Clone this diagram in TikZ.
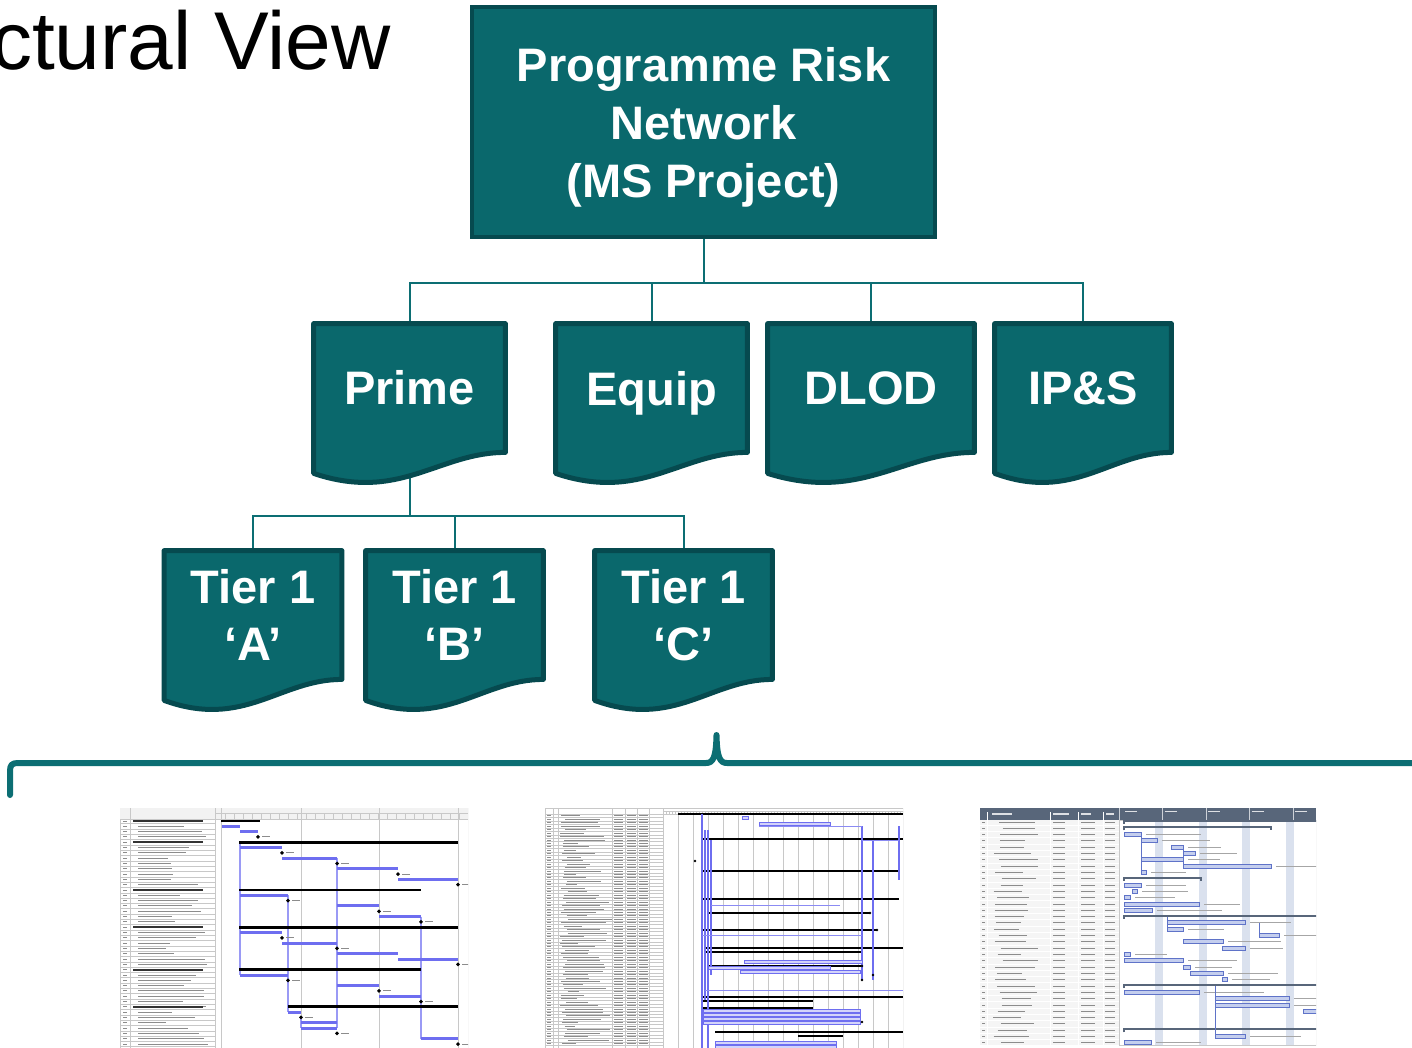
\documentclass[tikz,border=0pt]{standalone}
\usepackage{fontspec}
\setmainfont{Liberation Sans}
\usetikzlibrary{calc}

\definecolor{riskteal}{RGB}{10,104,108}
\definecolor{riskedge}{RGB}{6,74,79}
\definecolor{riskline}{RGB}{12,110,115}
\definecolor{ganttblue}{RGB}{110,110,240}
\definecolor{ganttgrid}{RGB}{200,200,200}
\definecolor{ganttfill}{RGB}{196,206,238}
\definecolor{ganttedge}{RGB}{95,115,200}
\definecolor{gantthead}{RGB}{88,102,122}
\definecolor{ganttband}{RGB}{218,225,238}

\pgfdeclarelayer{links}
\pgfdeclarelayer{shapes}
\pgfsetlayers{links,shapes,main}

\tikzset{
  topbox/.style={fill=riskteal, draw=riskedge, line width=2pt, minimum width=231.5pt, minimum height=115pt, inner sep=0pt, text=white, font=\bfseries\fontsize{23.5}{29}\selectfont, align=center},
  docbox/.style={inner sep=0pt, minimum height=64pt, text=white, font=\bfseries\fontsize{23.5}{28.5}\selectfont, align=center},
  docline/.style={fill=riskteal, draw=riskedge, line width=2.5pt, line join=round},
  link/.style={draw=riskline, line width=1pt},
  brace/.style={draw=riskline, line width=3pt, line cap=round, line join=round},
  gridline/.style={draw=ganttgrid, line width=0.3pt},
  textline/.style={draw=black!45, line width=0.7pt},
}

\begin{document}
\begin{tikzpicture}[x=0.5pt,y=0.5pt,yscale=-1,xscale=1]
\useasboundingbox (0,0) rectangle (1412,1048);
\clip (0,0) rectangle (1412,1048);

% Title, cut at the left edge
\node[anchor=base east, inner sep=0pt, font=\fontsize{41}{49}\selectfont] (title) at (391,70) {ctural View};

% Boxes
\node[topbox, minimum height=115pt, text height=0pt] (prn) at (703.5,122) {};
\node[text=white, font=\bfseries\fontsize{23.5}{29}\selectfont, align=center, inner sep=0pt] (prntext) at (703.5,127) {Programme Risk\\Network\\(MS Project)};
\node[docbox, minimum width=95.5pt] (prime) at (409.5,388) {Prime};
\node[docbox, minimum width=95.5pt, text depth=0pt] (equip) at (651.5,388) {Equip};
\node[docbox, minimum width=103pt] (dlod) at (871,388) {DLOD};
\node[docbox, minimum width=88pt] (ips) at (1083,388) {IP\&S};
\node[docbox, minimum width=88.5pt] (tiera) at (253,615) {Tier 1\\‘A’};
\node[docbox, minimum width=88.5pt] (tierb) at (454.5,615) {Tier 1\\‘B’};
\node[docbox, minimum width=88.5pt] (tierc) at (683.5,615) {Tier 1\\‘C’};

% Document outlines
\begin{pgfonlayer}{shapes}
\foreach \n in {prime,equip,dlod,ips,tiera,tierb,tierc}
  \draw[docline] (\n.south east) .. controls ($(\n.south east)!0.35!(\n.south west)$) and ($(\n.south east)!0.55!(\n.south west)+(0,50)$) .. ($(\n.south west)+(0,21)$) -- (\n.north west) -- (\n.north east) -- cycle;
\end{pgfonlayer}

% Connectors
\begin{pgfonlayer}{links}
\foreach \n in {prime,equip,dlod,ips}
  \draw[link] (prn.south) -- ++(0,44) -| (\n.north);
\foreach \n in {tiera,tierb,tierc}
  \draw[link] (prime.south) -- ++(0,64) -| (\n.north);
\end{pgfonlayer}

% Brace
\draw[brace] (10,795) -- (10,771) .. controls (10,765) and (12,763) .. (18,763) -- (706,763) .. controls (713,763) and (716,758) .. (716.5,735) .. controls (717,758) and (720,763) .. (727,763) -- (1420,763);

\pgfmathsetseed{7}

% Gantt sheet 1
\begin{scope}
\clip (120,808) rectangle (468,1048);
\draw[gridline, fill=white] (120,808) rectangle (468,1048);
\fill[black!5] (120,808) rectangle (468,819);
\draw[gridline] (120,819) -- (468,819) (130,808) -- (130,1048) (215,808) -- (215,1048) (215,813.5) -- (468,813.5);
\foreach \x in {221,301,379,458}
  \draw[gridline] (\x,808) -- (\x,1048);
\foreach \x in {225,234,...,465}
  \draw[gridline] (\x,813.5) -- (\x,819);
\foreach \i in {1,...,43} {
  \draw[gridline, line width=0.2pt] (120,{818.35+5.31*\i}) -- (215,{818.35+5.31*\i});
  \draw[textline, line width=0.5pt] (123,{815.7+5.31*\i}) -- (127,{815.7+5.31*\i});
  \draw[textline, line width=0.5pt] (138,{815.7+5.31*\i}) -- ++({25+rnd*45},0);
}
\foreach \r in {1,5,14,21,29,36}
  \draw[black!80, line width=0.8pt] (133,{815.7+5.31*\r}) -- ++(70,0);
\foreach \x/\p/\q in {240/5/30, 288/15/37, 337/8/40, 421/19/42, 301/38/40}
  \draw[ganttblue!70, line width=0.6pt] (\x,{815.7+5.31*\p}) -- (\x,{815.7+5.31*\q});
\foreach \r/\a/\b in {2/222/240, 3/240/258, 6/240/282, 8/282/337, 10/337/398, 12/398/458, 15/240/288, 17/337/379, 19/379/421, 22/240/282, 24/282/337, 26/337/398, 27/398/458, 30/240/288, 32/337/379, 34/379/421, 37/288/301, 39/301/337, 40/301/337, 42/421/458}
  \fill[ganttblue] (\a,{814.2+5.31*\r}) rectangle (\b,{817.2+5.31*\r});
\foreach \r/\a/\b in {1/221/260, 5/239/458, 14/239/421, 21/239/458, 29/239/421, 36/288/458}
  \fill[black] (\a,{814.3+5.31*\r}) rectangle (\b,{817.1+5.31*\r});
\foreach \r/\x in {4/258, 7/282, 9/337, 11/398, 13/458, 16/288, 18/379, 20/421, 23/282, 25/337, 28/458, 31/288, 33/379, 35/421, 38/301, 41/337, 43/458} {
  \fill[black] (\x,{815.7+5.31*\r}) +(-2,0) -- +(0,-2) -- +(2,0) -- +(0,2) -- cycle;
  \draw[textline, line width=0.5pt] (\x+4,{815.7+5.31*\r}) -- ++(8,0);
}
\end{scope}

% Gantt sheet 2
\begin{scope}
\clip (545,808) rectangle (903,1048);
\draw[gridline, fill=white] (545,808) rectangle (903,1048);
\foreach \x in {553,558,612,625,637,649,663}
  \draw[gridline] (\x,808) -- (\x,1048);
\foreach \x in {678,693,...,903}
  \draw[gridline, line width=0.2pt] (\x,814) -- (\x,1048);
\draw[gridline] (663,811) -- (903,811) (545,814) -- (903,814);
\foreach \x in {666,669,...,903}
  \draw[gridline, line width=0.2pt] (\x,811) -- (\x,814);
\foreach \i in {1,...,67} {
  \draw[gridline, line width=0.15pt] (545,{814+3.45*\i}) -- (663,{814+3.45*\i});
  \draw[textline, line width=0.4pt] (547,{812.3+3.45*\i}) -- (551,{812.3+3.45*\i});
  \draw[textline, line width=0.4pt] ({560+rnd*8},{812.3+3.45*\i}) -- ++({10+rnd*35},0);
  \draw[textline, line width=0.4pt] (614,{812.3+3.45*\i}) -- ++(9,0) (627,{812.3+3.45*\i}) -- ++(9,0) (639,{812.3+3.45*\i}) -- ++(9,0);
}
\foreach \y/\a/\b in {814/678/903, 839/702/903, 871/702/899, 899/702/899, 913/708/870, 930/702/877, 948/705/903, 952/705/862, 966/707/862, 997/703/903, 1001/703/813, 1008/703/813, 1032/715/903, 1036/798/843}
  \draw[black, line width=1.2pt] (\a,\y) -- (\b,\y);
\foreach \x/\p/\q in {702/814/1048, 705/830/1000, 708/830/1048, 711/840/975, 862/826/980, 873/840/980, 899/826/880}
  \draw[ganttblue, line width=0.6pt] (\x,\p) -- (\x,\q);
\foreach \y/\a/\b in {826/759/862, 840/862/899, 905/711/840, 935/702/862, 990/705/903}
  \draw[ganttblue!80, line width=0.5pt] (\a,\y) -- (\b,\y);
\foreach \y/\a/\b in {818/742/748, 824/759/830, 962/744/862, 968/708/830, 972/740/860, 1011/703/860, 1015/703/860, 1019/703/860, 1023/703/860, 1043/715/836, 1047/715/836}
  \draw[ganttblue, fill=ganttblue!30, line width=0.5pt] (\a,\y-1.3) rectangle (\b,\y+1.3);
\foreach \y/\x in {861/695, 913/870, 930/877, 966/862, 975/873, 980/862, 1022/862}
  \fill[black] (\x,\y) circle (1.3);
\end{scope}

% Gantt sheet 3
\begin{scope}
\clip (980,808) rectangle (1316,1045);
\fill[black!4] (980,820) rectangle (1119,1045);
\draw[gridline, fill=white] (1119,820) rectangle (1316,1045);
\foreach \x in {1155,1198.5,1242,1285.5}
  \fill[ganttband] (\x,820) rectangle (\x+8,1045);
\fill[gantthead] (980,808) rectangle (1316,820);
\foreach \x in {987,1050,1078,1103}
  \draw[white, line width=0.3pt] (\x,812) -- (\x,1045);
\foreach \x in {1119,1162.5,1206,1249.5,1293}
  \draw[white!70!gantthead, line width=0.3pt] (\x,808) -- (\x,820);
\foreach \x in {1123,1162.5,1206,1249.5,1293}
  \draw[white!80!gantthead, line width=0.5pt] (\x+2,811) -- ++(12,0);
\draw[white!80!gantthead, line width=0.6pt] (992,814) -- ++(20,0) (1053,814) -- ++(16,0) (1081,814) -- ++(10,0) (1106,814) -- ++(8,0);
\foreach \i in {1,...,36} {
  \draw[white, line width=0.4pt] (980,{818.8+6.31*\i}) -- (1119,{818.8+6.31*\i});
  \draw[textline, line width=0.5pt] (982,{815.7+6.31*\i}) -- ++(3,0);
  \draw[textline, line width=0.5pt] ({993+rnd*10},{815.7+6.31*\i}) -- ++({22+rnd*18},0);
  \draw[textline, line width=0.5pt] (1053,{815.7+6.31*\i}) -- ++(12,0) (1081,{815.7+6.31*\i}) -- ++(14,0) (1105,{815.7+6.31*\i}) -- ++(10,0);
}
\foreach \r/\a/\b in {1/1124/1320, 2/1124/1271, 10/1124/1201, 16/1124/1320, 27/1124/1320, 34/1124/1320}
  \draw[gantthead, line width=0.9pt] (\a,{817.7+6.31*\r}) -- (\a,{814.7+6.31*\r}) -- (\b,{814.7+6.31*\r}) -- (\b,{817.7+6.31*\r});
\foreach \r/\a/\b in {3/1124/1141, 4/1141/1157, 5/1171/1183, 6/1183/1195, 7/1141/1183, 8/1183/1271, 9/1141/1146, 11/1124/1141, 12/1132/1137, 13/1124/1130, 14/1124/1199, 15/1124/1152, 17/1167/1245, 18/1167/1183, 19/1259/1279, 20/1183/1223, 21/1222/1245, 22/1124/1130, 23/1124/1183, 24/1183/1190, 25/1190/1223, 26/1222/1227, 28/1124/1199, 29/1215/1289, 30/1215/1289, 31/1303/1320, 35/1215/1245, 36/1124/1151} {
  \draw[ganttedge, fill=ganttfill, line width=0.5pt] (\a,{813.7+6.31*\r}) rectangle (\b,{817.7+6.31*\r});
  \draw[textline, draw=black!35, line width=0.5pt] (\b+5,{815.7+6.31*\r}) -- ++({30+rnd*40},0);
}
\foreach \x/\p/\q in {1141/3/9, 1167/16/18, 1183/5/8, 1215/27/35, 1259/17/19}
  \draw[ganttedge, line width=0.5pt] (\x,{815.7+6.31*\p}) -- (\x,{815.7+6.31*\q});
\end{scope}

\end{tikzpicture}
\end{document}
